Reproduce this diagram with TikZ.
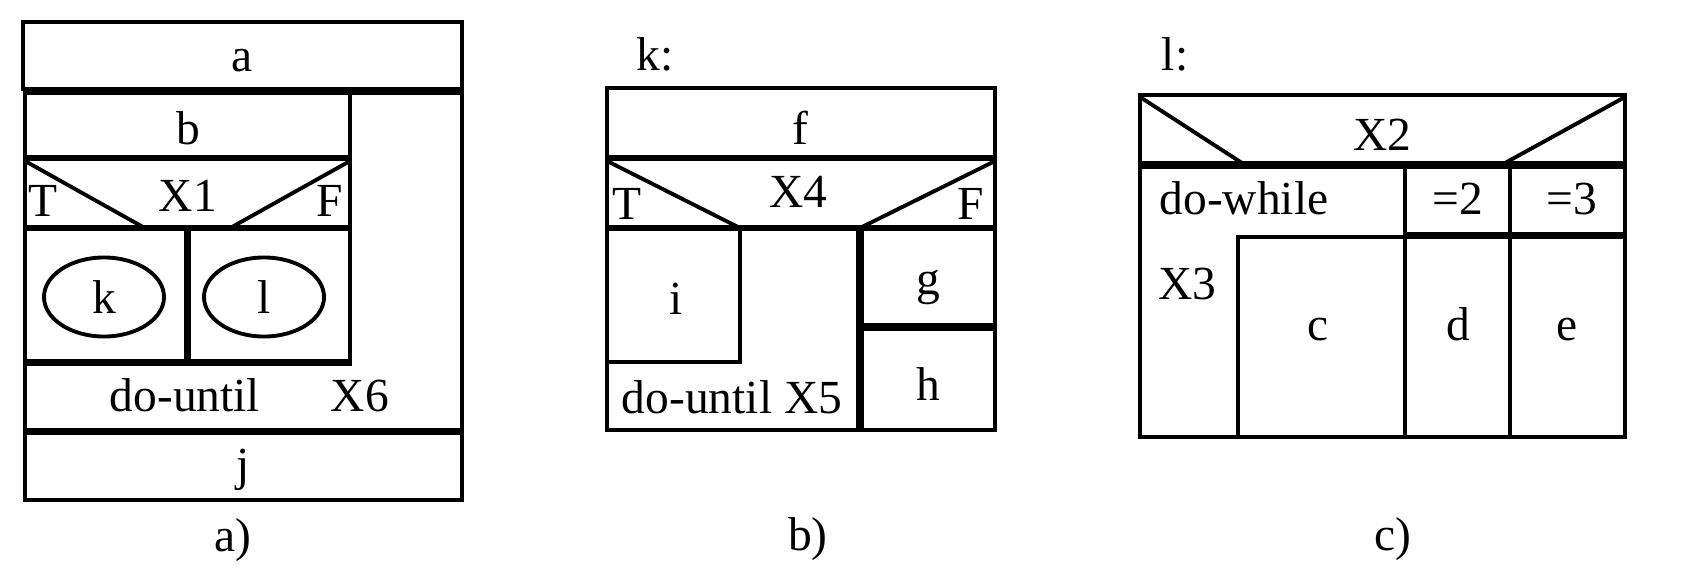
\documentclass[tikz,border=0pt]{standalone}
\usepackage{fontspec}
\setmainfont{Liberation Serif}
\usetikzlibrary{shapes.geometric}

\begin{document}
\begin{tikzpicture}[x=0.01cm,y=-0.01cm,line width=1.1pt,
  font=\fontsize{13.5pt}{16pt}\selectfont,
  lbl/.style={anchor=base,inner sep=0pt},
  callnode/.style={ellipse,draw,minimum width=1.2cm,minimum height=0.79cm,inner sep=0pt}]
\useasboundingbox (0,0) rectangle (1698,576);

% Panel a (left)
\draw (23,22) rectangle (462,89);
\draw (25,93) rectangle (462,430);
\draw (25,93) -- (25,364) -- (350,364) -- (350,93);
\draw (25,93) rectangle (350,157);
\draw (25,159) rectangle (350,227);
\draw (25,161) -- (143,227);
\draw (350,161) -- (232,227);
\draw (25,229) rectangle (186,361);
\draw (189,229) rectangle (350,361);
\draw (25,433) rectangle (462,500);

\node[lbl] (a) at (242,72) {a};
\node[lbl] (b) at (188,145) {b};
\node[lbl] (x1) at (188,212) {X1};
\node[lbl] (t1) at (43,216) {T};
\node[lbl] (f1) at (330,216) {F};
\node[callnode] (k) at (104,297) {k};
\node[callnode] (l) at (264,297) {l};
\node[lbl] (du1) at (185,411) {do-until};
\node[lbl] (x6) at (360,411) {X6};
\node[lbl] (j) at (243,480) {j};
\node[lbl] (capa) at (233,551) {a)};

% Panel b (center)
\node[lbl] (klbl) at (655,71) {k:};
\draw (607,88) rectangle (995,157);
\draw (607,159) rectangle (995,227);
\draw (607,161) -- (738,227);
\draw (995,161) -- (862,227);
\draw (607,229) rectangle (858,430);
\draw (607,229) rectangle (740,362);
\draw (862,229) rectangle (995,325);
\draw (862,329) rectangle (995,430);

\node[lbl] (f) at (800,144) {f};
\node[lbl] (x4) at (798,207) {X4};
\node[lbl] (t2) at (627,219) {T};
\node[lbl] (f2) at (971,219) {F};
\node[lbl] (i) at (676,314) {i};
\node[lbl] (g) at (928,294) {g};
\node[lbl] (h) at (928,400) {h};
\node[lbl] (du2) at (732,413) {do-until X5};
\node[lbl] (capb) at (808,550) {b)};

% Panel c (right)
\node[lbl] (llbl) at (1175,71) {l:};
\draw (1140,95) rectangle (1625,163);
\draw (1140,97) -- (1242,163);
\draw (1625,97) -- (1505,163);
\draw (1140,167) rectangle (1405,437);
\draw (1238,237) rectangle (1405,437);
\draw (1405,167) rectangle (1510,234);
\draw (1405,237) rectangle (1510,437);
\draw (1510,167) rectangle (1625,234);
\draw (1510,237) rectangle (1625,437);

\node[lbl] (x2) at (1382,150) {X2};
\node[lbl] (dw) at (1244,214) {do-while};
\node[lbl] (eq2) at (1458,215) {=2};
\node[lbl] (eq3) at (1572,215) {=3};
\node[lbl] (x3) at (1187,299) {X3};
\node[lbl] (c) at (1318,340) {c};
\node[lbl] (d) at (1458,340) {d};
\node[lbl] (e) at (1567,340) {e};
\node[lbl] (capc) at (1393,550) {c)};

\end{tikzpicture}
\end{document}
